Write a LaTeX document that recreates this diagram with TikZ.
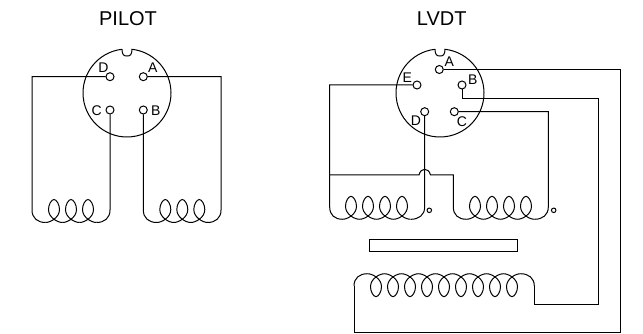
\documentclass[tikz,border=0pt]{standalone}
\usepackage{fontspec}
\setmainfont{Liberation Sans}
\usetikzlibrary{positioning}

\tikzset{
	pin/.style={circle, draw, fill=white, inner sep=0pt, minimum size=8pt},
	endpin/.style={circle, draw, inner sep=0pt, minimum size=4.5pt},
	pinlabel/.style={inner sep=0pt, font=\fontsize{14}{14}\selectfont},
	title/.style={inner sep=0pt, font=\fontsize{20}{20}\selectfont},
	turn/.pic={
		\draw (-8.5,0) .. controls (-3.5,0) and (5.5,-5) .. (5.5,-13)
		.. controls (5.5,-18) and (2.5,-23) .. (0,-23)
		.. controls (-2.5,-23) and (-5.5,-18) .. (-5.5,-13)
		.. controls (-5.5,-5) and (3.5,0) .. (8.5,0);
	},
	shell/.pic={
		\draw (96.5:44pt) arc[start angle=96.5, end angle=443.5, radius=44pt]
		.. controls (5,-38) and (3,-37) .. (0,-37)
		.. controls (-3,-37) and (-5,-38) .. (96.5:44pt);
	}
}

\begin{document}
\begin{tikzpicture}[x=1pt, y=-1pt, line width=1pt]
		\useasboundingbox (0,0) rectangle (643,334);
		
		% pilot connector
		\node[title] (pilot) at (128,19) {PILOT};
		\pic at (127,93) {shell};
		\node[pin] (pilotD) at (110,76.7) {};
		\node[pin] (pilotA) at (143.3,76.7) {};
		\node[pin] (pilotC) at (110,110) {};
		\node[pin] (pilotB) at (143.3,110) {};
		\node[pinlabel] (labD) at (103.5,68) {D};
		\node[pinlabel] (labA) at (152.7,67.7) {A};
		\node[pinlabel] (labC) at (96.7,110.3) {C};
		\node[pinlabel] (labB) at (155.7,110.3) {B};
		
		\coordinate (pilotL) at (32,210);
		\coordinate (pilotM) at (110,210);
		\coordinate (pilotN) at (143.3,210);
		\coordinate (pilotR) at (221,210);
		
		\draw (pilotD) -| (pilotL) .. controls +(0,8) and +(-8,0) .. +(13.5,12.5);
		\draw (pilotC) -- (pilotM) .. controls +(0,8) and +(8,0) .. +(-13.5,12.5);
		\draw (pilotB) -- (pilotN) .. controls +(0,8) and +(-8,0) .. +(13.5,12.5);
		\draw (pilotA) -| (pilotR) .. controls +(0,8) and +(8,0) .. +(-13.5,12.5);
		
		\foreach \c in {54,71,88,165.3,182.3,199.3}
			\pic at (\c,222.5) {turn};
		
		% lvdt connector
		\node[title] (lvdt) at (441.7,19) {LVDT};
		\pic at (440,93) {shell};
		\node[pin] (lvdtA) at (439.3,69.5) {};
		\node[pin] (lvdtE) at (417,85) {};
		\node[pin] (lvdtB) at (462,85) {};
		\node[pin] (lvdtC) at (454.3,111.7) {};
		\node[pin] (lvdtD) at (424.7,111.7) {};
		\node[pinlabel] (labA2) at (449.3,61.7) {A};
		\node[pinlabel] (labE2) at (407.3,77.7) {E};
		\node[pinlabel] (labB2) at (472.7,80) {B};
		\node[pinlabel] (labC2) at (462,121.7) {C};
		\node[pinlabel] (labD2) at (416,120.7) {D};
		
		\node[endpin] (end1) at (429.3,210.3) {};
		\node[endpin] (end2) at (553.7,210.3) {};
		
		\coordinate (coilL) at (329.7,207);
		\coordinate (coilM) at (424.7,207);
		\coordinate (coilN) at (453.3,207);
		\coordinate (coilR) at (548.3,207);
		\coordinate (tap) at (329.7,175);
		\coordinate (hopL) at (419,175);
		\coordinate (hopT) at (424.7,169.3);
		\coordinate (hopR) at (430.5,175);
		\coordinate (tapN) at (453.3,175);
		
		\draw (lvdtE) -| (coilL) .. controls +(0,8) and +(-8,0) .. +(13,12.3);
		\draw (lvdtD) -- (coilM) .. controls +(0,8) and +(8,0) .. +(-13.9,12.3);
		\draw (lvdtC) -| (coilR) .. controls +(0,8) and +(8,0) .. +(-13.8,12.3);
		\draw (tap) -- (hopL) .. controls +(1,-4) and +(-2.5,0) .. (hopT)
		.. controls +(2.5,0) and +(-1,-4) .. (hopR) -- (tapN) -- (coilN)
		.. controls +(0,8) and +(-8,0) .. +(13.2,12.3);
		
		\foreach \c in {351,368,385,402,475,492,509,526}
			\pic at (\c,219.3) {turn};
		
		% core
		\node[draw, inner sep=0pt, minimum width=148pt, minimum height=11.7pt] (core) at (443.7,245.2) {};
		
		% primary
		\foreach \c in {376,393,410,427,444,461,478,495,512}
			\pic[yscale=-1] at (\c,273.7) {turn};
		
		\coordinate (priL) at (354,286);
		\coordinate (priR) at (534.3,286);
		\coordinate (lineAx) at (620,332.5);
		\coordinate (lineAy) at (354,332.5);
		\coordinate (lineBx) at (598.3,304);
		\coordinate (lineBy) at (534.3,304);
		\coordinate (lineBs) at (462,98.3);
		
		\draw (priL) .. controls +(0,-8) and +(-8,0) .. +(13.5,-12.3);
		\draw (priR) .. controls +(0,-8) and +(8,0) .. +(-13.8,-12.3);
		\draw (lvdtA) -| (lineAx) -- (lineAy) -- (priL);
		\draw (lvdtB) -- (lineBs) -| (lineBx) -- (lineBy) -- (priR);
\end{tikzpicture}
\end{document}
